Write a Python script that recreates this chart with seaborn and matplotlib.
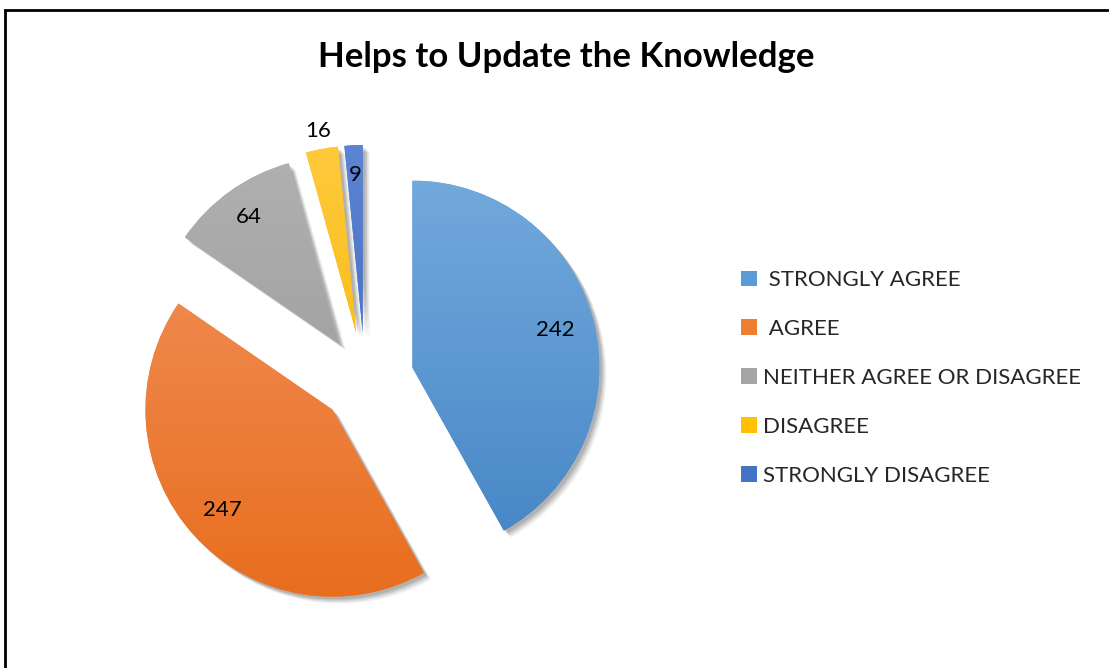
import numpy as np
import matplotlib
matplotlib.use("Agg")
import matplotlib.pyplot as plt
import matplotlib.patheffects as pe
from matplotlib.patches import Rectangle
from matplotlib.colors import LinearSegmentedColormap
import seaborn as sns

sns.set_theme(style="white")
plt.rcParams['font.family'] = ['Lato', 'DejaVu Sans']

# Data
categories = [" STRONGLY AGREE", " AGREE", "NEITHER AGREE OR DISAGREE", "DISAGREE", "STRONGLY DISAGREE"]
counts = [242, 247, 64, 16, 9]

# Styles
top_colors = ["#72A9DC", "#F18F58", "#B0B0B0", "#FFC93C", "#5C84D2"]
bottom_colors = ["#4686C6", "#E86E1E", "#989898", "#F2B600", "#3A63BC"]
base_colors = ["#5B9BD5", "#ED7D31", "#A5A5A5", "#FFC000", "#4472C4"]
explode = [49, 44, 45, 48, 48]          # pixels
label_dist = [0.79, 0.80, 0.83, 1.10, 0.84]

fig = plt.figure(figsize=(11.09, 6.68), dpi=100)
ax = fig.add_axes([0, 0, 1, 1])

radius = 187
center = (365, 288)
wedges, _ = ax.pie(counts, colors=base_colors, explode=explode, radius=radius,
                   center=center, startangle=90, counterclock=False,
                   wedgeprops=dict(linewidth=0))
ax.set_aspect('equal')
ax.axis('off')

# soft shadow below the slices
shadow = [pe.SimplePatchShadow(offset=(o, -o), shadow_rgbFace='black', alpha=a)
          for o, a in [(5, 0.06), (4, 0.08), (3, 0.10), (2, 0.10)]]

for w, c_top, c_bot, d, val in zip(wedges, top_colors, bottom_colors, label_dist, counts):
    w.set_path_effects(shadow + [pe.Normal()])
    # vertical gradient clipped to wedge
    cx, cy = w.center
    cmap = LinearSegmentedColormap.from_list("g", [c_bot, c_top])
    grad = np.linspace(0, 1, 256).reshape(-1, 1)
    im = ax.imshow(grad, cmap=cmap, origin='lower', aspect='auto',
                   extent=(cx - w.r, cx + w.r, cy - w.r, cy + w.r), zorder=w.get_zorder() + 0.1)
    im.set_clip_path(w)
    mid = np.deg2rad((w.theta1 + w.theta2) / 2)
    ax.text(cx + d * w.r * np.cos(mid), cy + d * w.r * np.sin(mid), str(val),
            ha='center', va='center', fontsize=16, color='black', zorder=5)

ax.set_xlim(0, 1109)
ax.set_ylim(0, 668)

leg = ax.legend(wedges, categories, loc='center left', bbox_to_anchor=(741 / 1109, 290 / 668),
                frameon=False, fontsize=16, handlelength=0.72, handleheight=0.72,
                handletextpad=0.25, labelspacing=1.3, borderpad=0, borderaxespad=0)
for h in leg.legend_handles:
    h.set_path_effects([])

fig.text(566 / 1109, 1 - 57 / 668, "Helps to Update the Knowledge", ha='center', va='center',
         fontsize=25, fontweight='bold', color='black')

fig.add_artist(Rectangle((5 / 1109, -0.1), 2, (668 - 10) / 668 + 0.1, transform=fig.transFigure,
                         fill=False, edgecolor='black', linewidth=2))

fig.savefig("out.png", dpi=100, facecolor='white')
